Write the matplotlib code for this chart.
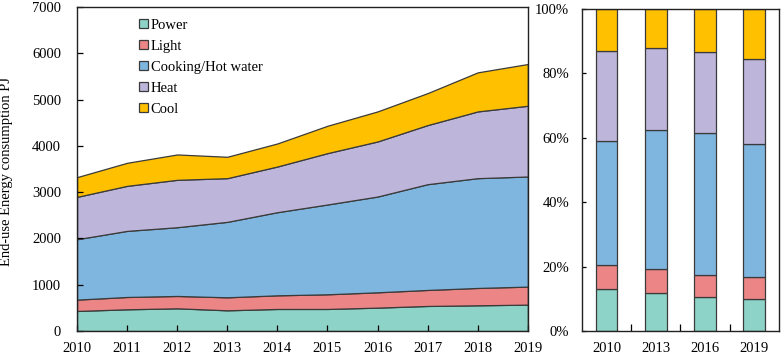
import matplotlib
matplotlib.use('Agg')
import matplotlib.pyplot as plt
import numpy as np

plt.rcParams['font.family'] = ['Liberation Serif', 'DejaVu Serif']
plt.rcParams['font.size'] = 10.5

# Left panel: end-use energy consumption (PJ) per category
years = [2010, 2011, 2012, 2013, 2014, 2015, 2016, 2017, 2018, 2019]
power = [433, 469, 490, 447, 476, 476, 505, 541, 555, 570]
light = [245, 266, 267, 281, 295, 317, 331, 346, 375, 389]
cooking = [1305, 1428, 1485, 1630, 1796, 1940, 2069, 2285, 2372, 2379]
heat = [915, 973, 1024, 944, 987, 1110, 1190, 1277, 1442, 1528]
cool = [426, 498, 548, 462, 498, 591, 649, 691, 844, 902]

labels = ['Power', 'Light', 'Cooking/Hot water', 'Heat', 'Cool']
colors = ['#8ED3C7', '#EC8585', '#7FB6E0', '#BDB5DA', '#FFC000']

# Right panel: shares (%) for selected years
share_years = ['2010', '2013', '2016', '2019']
share_power = [12.9, 11.9, 10.5, 9.8]
share_light = [7.5, 7.5, 6.9, 7.0]
share_cooking = [38.6, 43.0, 44.0, 41.3]
share_heat = [27.9, 25.6, 25.1, 26.5]
share_cool = [13.1, 12.0, 13.5, 15.4]

edge = '#3a3a3a'

fig = plt.figure(figsize=(7.82, 3.55), dpi=100)
ax1 = fig.add_axes([0.0985, 0.0676, 0.5765, 0.9127])
ax2 = fig.add_axes([0.744, 0.0676, 0.252, 0.907])

# stacked areas
series = [power, light, cooking, heat, cool]
ax1.stackplot(years, *series, colors=colors, labels=labels,
              edgecolor=edge, linewidth=0.9)
ax1.set_xlim(2010, 2019)
ax1.set_ylim(0, 7000)
ax1.set_xticks(years)
ax1.set_yticks(range(0, 7001, 1000))
ax1.tick_params(axis='both', direction='in', length=4, width=0.9)
ax1.tick_params(axis='x', pad=8)
ax1.tick_params(axis='y', pad=11.5)
fig.text(7 / 782, 0.518, 'End-use Energy consumption PJ', rotation=90,
         ha='center', va='center')
for s in ax1.spines.values():
    s.set_linewidth(1.0)
    s.set_color('#222222')

leg = ax1.legend(loc='upper left', bbox_to_anchor=(0.112, 1.0), frameon=False,
                 handlelength=0.6, handleheight=0.6, handletextpad=0.2,
                 labelspacing=0.55, borderaxespad=0.4)

# 100% stacked bars
x = np.arange(len(share_years))
bottom = np.zeros(len(x))
for vals, c in zip([share_power, share_light, share_cooking, share_heat, share_cool], colors):
    ax2.bar(x, vals, 0.44, bottom=bottom, color=c, edgecolor=edge, linewidth=0.9)
    bottom = bottom + np.array(vals)
ax2.set_xlim(-0.5, 3.5)
ax2.set_ylim(0, 100)
ax2.set_yticks(range(0, 101, 20))
ax2.set_yticklabels([f'{v}%' for v in range(0, 101, 20)])
ax2.set_xticks(x)
ax2.set_xticklabels(share_years)
ax2.set_xticks([0.5, 1.5, 2.5], minor=True)
ax2.tick_params(axis='x', which='major', length=0, pad=8)
ax2.tick_params(axis='x', which='minor', direction='in', length=5, width=0.9)
ax2.tick_params(axis='y', direction='in', length=3, width=0.9, pad=9)
for s in ax2.spines.values():
    s.set_linewidth(1.0)
    s.set_color('#222222')

fig.savefig('out.png', dpi=100)
